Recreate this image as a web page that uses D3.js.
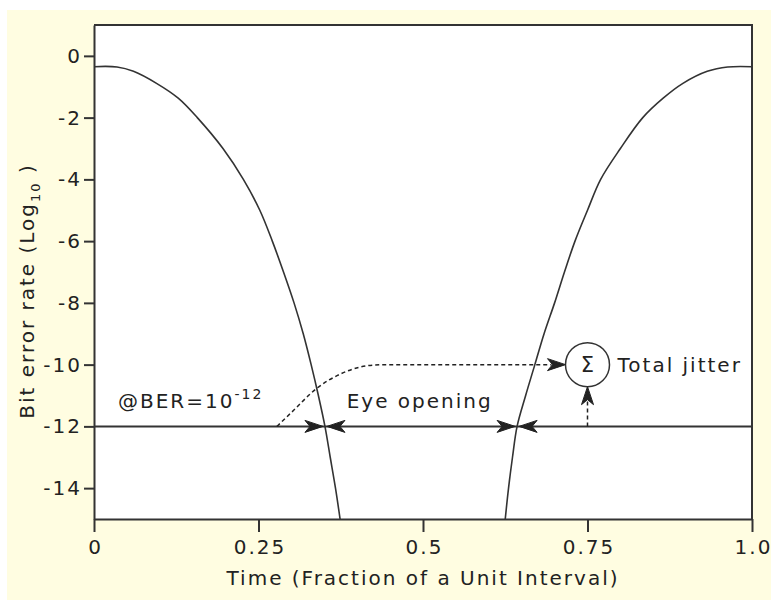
<!DOCTYPE html>
<html>
<head>
<meta charset="utf-8">
<script src="https://cdn.jsdelivr.net/npm/d3@7"></script>
<style>
  html, body { margin: 0; padding: 0; background: #ffffff; }
  svg text { font-family: "DejaVu Sans", Verdana, sans-serif; fill: #222; }
</style>
</head>
<body>
<svg id="chart" width="771" height="600"></svg>
<script>
// ---- data ----
const xTicks = [0, 0.25, 0.5, 0.75, 1.0];
const xTickLabels = ["0", "0.25", "0.5", "0.75", "1.0"];
const yTicks = [0, -2, -4, -6, -8, -10, -12, -14];
const yTickLabels = ["0", "-2", "-4", "-6", "-8", "-10", "-12", "-14"];

// left bathtub curve (time, log10 BER)
const leftCurveX = [0, 0.035, 0.060, 0.095, 0.128, 0.157, 0.196, 0.227, 0.252, 0.271, 0.288, 0.304, 0.318, 0.330, 0.341, 0.351, 0.359, 0.367, 0.374];
const leftCurveY = [-0.35, -0.36, -0.50, -0.89, -1.37, -2, -3, -4, -5, -6, -7, -8, -9, -10, -11, -12, -13, -14, -15];
// right bathtub curve
const rightCurveX = [0.625, 0.630, 0.636, 0.643, 0.656, 0.670, 0.684, 0.700, 0.715, 0.731, 0.750, 0.770, 0.800, 0.834, 0.865, 0.895, 0.932, 0.963, 1.0];
const rightCurveY = [-15, -14, -13, -12, -11, -10, -9, -8, -7, -6, -5, -4, -3, -2, -1.37, -0.89, -0.50, -0.36, -0.35];

const berLevel = -12;          // @BER = 10^-12 reference line
const eyeLeft = 0.351;         // left curve crossing at BER level
const eyeRight = 0.643;        // right curve crossing at BER level
const sumX = 0.75, sumY = -10; // summing node position
// dashed path from left crossing region to summing node
const jitterPathX = [0.278, 0.300, 0.339, 0.375, 0.404, 0.435];
const jitterPathY = [-12.0, -11.55, -10.76, -10.30, -10.08, -10.0];

// ---- drawing ----
const W = 771, H = 600;
const svg = d3.select("#chart");
const ink = "#333";

svg.append("rect").attr("x", 0).attr("y", 0).attr("width", W).attr("height", H).attr("fill", "#fff");
svg.append("rect").attr("x", 7).attr("y", 10).attr("width", W - 7).attr("height", H - 10).attr("fill", "#fffde1");

const x = d3.scaleLinear().domain([0, 1]).range([94, 752]);
const y = d3.scaleLinear().domain([-15, 1]).range([519, 25]);

svg.append("rect").attr("x", x(0)).attr("y", y(1)).attr("width", x(1) - x(0)).attr("height", y(-15) - y(1))
  .attr("fill", "#fff");

svg.append("clipPath").attr("id", "clip").append("rect")
  .attr("x", x(0)).attr("y", y(1)).attr("width", x(1) - x(0)).attr("height", y(-15) - y(1));

const fontSize = 20, ls = 2;

// axes
const yAxis = svg.append("g").attr("transform", `translate(${x(0)},0)`)
  .call(d3.axisLeft(y).tickValues(yTicks).tickFormat((d, i) => yTickLabels[i]).tickSize(10).tickSizeOuter(0).tickPadding(2));
const xAxis = svg.append("g").attr("transform", `translate(0,${y(-15)})`)
  .call(d3.axisBottom(x).tickValues(xTicks).tickFormat((d, i) => xTickLabels[i]).tickSize(13).tickSizeOuter(0).tickPadding(8));
[yAxis, xAxis].forEach(g => {
  g.select(".domain").attr("stroke", ink).attr("stroke-width", 2);
  g.selectAll(".tick line").attr("stroke", ink).attr("stroke-width", 2);
  g.selectAll(".tick text").attr("font-size", fontSize).attr("letter-spacing", ls)
    .attr("font-family", "DejaVu Sans, Verdana, sans-serif").attr("fill", "#222");
});
xAxis.selectAll(".tick text").attr("dx", ls / 2);

// top and right frame
svg.append("path")
  .attr("d", `M${x(0)},${y(1)} H${x(1)} V${y(-15)}`)
  .attr("fill", "none").attr("stroke", ink).attr("stroke-width", 2);

// BER reference line
svg.append("line").attr("x1", x(0)).attr("x2", x(1)).attr("y1", y(berLevel)).attr("y2", y(berLevel))
  .attr("stroke", ink).attr("stroke-width", 2);

// curves
const line = d3.line().x(d => x(d[0])).y(d => y(d[1])).curve(d3.curveCatmullRom.alpha(0.5));
const plot = svg.append("g").attr("clip-path", "url(#clip)");
plot.append("path").datum(leftCurveX.map((v, i) => [v, leftCurveY[i]]))
  .attr("d", line).attr("fill", "none").attr("stroke", ink).attr("stroke-width", 1.6);
plot.append("path").datum(rightCurveX.map((v, i) => [v, rightCurveY[i]]))
  .attr("d", line).attr("fill", "none").attr("stroke", ink).attr("stroke-width", 1.6);

// arrowhead helper (tip at tx,ty, angle in degrees, 0 = pointing right)
function arrow(tx, ty, angle) {
  svg.append("path")
    .attr("d", "M0,0 L-18,-6 L-13,0 L-18,6 Z")
    .attr("transform", `translate(${tx},${ty}) rotate(${angle})`)
    .attr("fill", "#222").attr("stroke", "#222").attr("stroke-width", 1);
}

// eye opening arrows
const yb = y(berLevel);
arrow(x(eyeLeft) - 2, yb, 0);
arrow(x(eyeLeft) + 2, yb, 180);
arrow(x(eyeRight) - 2, yb, 0);
arrow(x(eyeRight) + 2, yb, 180);

// summing node
const cx = x(sumX), cy = y(sumY), r = 22;
svg.append("circle").attr("cx", cx).attr("cy", cy).attr("r", r)
  .attr("fill", "#fff").attr("stroke", ink).attr("stroke-width", 1.5);
svg.append("text").attr("x", cx).attr("y", cy).attr("text-anchor", "middle").attr("dominant-baseline", "central")
  .attr("font-size", 21).text("Σ");

// dashed curve to summing node
const dashLine = d3.line().x(d => x(d[0])).y(d => y(d[1])).curve(d3.curveMonotoneX);
const jp = jitterPathX.map((v, i) => [v, jitterPathY[i]]);
svg.append("path")
  .attr("d", dashLine(jp) + ` L${cx - r - 14},${cy}`)
  .attr("fill", "none").attr("stroke", "#222").attr("stroke-width", 1.5).attr("stroke-dasharray", "4,3");
arrow(cx - r, cy, 0);

// vertical dashed arrow
svg.append("line").attr("x1", cx).attr("x2", cx).attr("y1", yb).attr("y2", cy + r + 12)
  .attr("stroke", "#222").attr("stroke-width", 1.5).attr("stroke-dasharray", "4,3");
arrow(cx, cy + r, -90);

// labels
svg.append("text").attr("x", cx + r + 8).attr("y", cy).attr("dominant-baseline", "central")
  .attr("font-size", fontSize).attr("letter-spacing", ls).text("Total jitter");

svg.append("text").attr("x", x(0.384)).attr("y", 408)
  .attr("font-size", fontSize).attr("letter-spacing", ls).text("Eye opening");

const ber = svg.append("text").attr("x", 118).attr("y", 408)
  .attr("font-size", fontSize).attr("letter-spacing", ls);
ber.append("tspan").text("@BER=10");
ber.append("tspan").attr("font-size", 14).attr("dy", -9).text("-12");

// axis titles
svg.append("text").attr("x", (x(0) + x(1)) / 2).attr("y", 585).attr("text-anchor", "middle")
  .attr("font-size", fontSize).attr("letter-spacing", ls).text("Time (Fraction of a Unit Interval)");

const yt = svg.append("text").attr("transform", "translate(34,291) rotate(-90)").attr("text-anchor", "middle")
  .attr("font-size", fontSize).attr("letter-spacing", ls);
yt.append("tspan").text("Bit error rate (Log");
yt.append("tspan").attr("font-size", 13).attr("dy", 6).text("10");
yt.append("tspan").attr("dy", -6).text(" )");
</script>
</body>
</html>
